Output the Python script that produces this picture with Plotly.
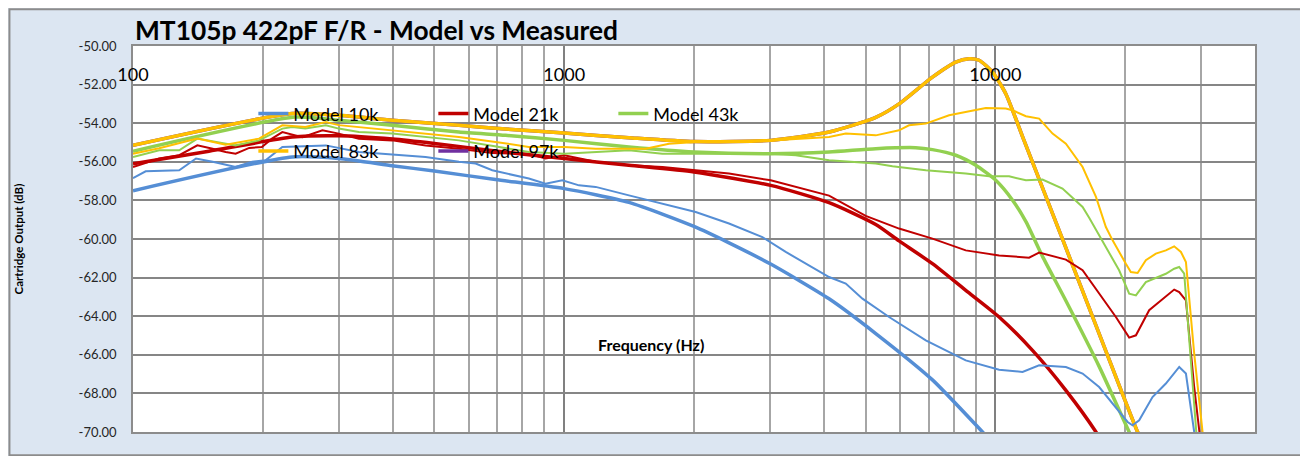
import numpy as np
import plotly.graph_objects as go

# ---------------- data ----------------
# Model curves (Hz, dB)
m10_f = [100, 234, 300, 399, 500, 693, 1000, 1413, 2000, 2411, 3012, 4114, 5279, 7145, 9335, 10290]
m10_db = [-57.5, -55.75, -55.83, -56.2, -56.48, -56.92, -57.39, -58.1, -59.35, -60.2, -61.3, -63.1, -64.9, -67.3, -70.0, -71.0]

m21_f = [100, 150, 234, 300, 400, 500, 700, 1000, 1413, 2000, 3012, 4114, 5279, 5978, 7145, 8537, 10200, 12190, 14570, 17110, 18500]
m21_db = [-56.1, -55.45, -54.72, -54.65, -54.82, -55.05, -55.45, -55.83, -56.18, -56.53, -57.22, -58.12, -59.25, -60.1, -61.28, -62.66, -64.04, -65.77, -67.84, -70.0, -71.3]

m43_f = [100, 238, 300, 399, 570, 731, 1000, 1413, 2000, 3012, 4114, 5279, 6535, 7145, 8093, 9005, 10020, 10960, 11770, 12860, 14570, 17400, 20430, 21730]
m43_db = [-55.45, -53.68, -53.85, -54.11, -54.46, -54.63, -54.89, -55.23, -55.49, -55.58, -55.49, -55.32, -55.27, -55.37, -55.66, -56.18, -56.96, -57.99, -59.1, -60.9, -63.2, -66.6, -70.0, -71.2]

m83_f = [100, 234, 300, 399, 570, 731, 1000, 1413, 2000, 3012, 4114, 5279, 5978, 7145, 8093, 8689, 9167, 9846, 10570, 11560, 12630, 13450, 15100, 17400, 21370, 22940]
m83_db = [-55.15, -53.5, -53.59, -53.85, -54.11, -54.3, -54.51, -54.75, -54.95, -54.89, -54.46, -53.7, -53.0, -51.61, -50.83, -50.66, -50.74, -51.35, -52.47, -54.69, -56.9, -58.46, -61.35, -64.9, -70.0, -71.5]

m97_f = [100, 234, 300, 399, 570, 731, 1000, 1413, 2000, 3012, 4114, 5279, 5978, 7145, 8093, 8689, 9167, 9846, 10570, 11560, 12630, 13450, 15100, 17400, 21370, 22940]
m97_db = [-55.15, -53.5, -53.59, -53.85, -54.11, -54.3, -54.51, -54.75, -54.95, -54.89, -54.46, -53.7, -53.0, -51.61, -50.83, -50.66, -50.74, -51.35, -52.47, -54.69, -56.9, -58.46, -61.35, -64.9, -70.0, -71.5]

# Measured curves (Hz, dB)
s10_f = [100, 107, 128, 140, 153, 173, 189, 203, 222, 280, 334, 385, 421, 477, 570, 623, 681, 731, 828, 905,
         990, 1082, 1183, 1413, 1689, 2018, 2411, 2881, 3264, 3764, 4114, 4498, 4917, 5668, 6896, 8537, 10200, 11560, 12630, 14570,
         15930, 17400, 19030, 20260, 20800, 21550, 23140, 24850, 26690, 27660, 28910, 29700]
s10_db = [-56.85, -56.49, -56.44, -55.83, -56.0, -56.27, -56.0, -55.92, -55.23, -55.15, -55.49, -55.58, -55.66, -55.75, -56.0, -56.09, -56.44, -56.61, -56.87, -57.13,
          -56.96, -57.22, -57.3, -57.74, -58.17, -58.6, -59.2, -59.9, -60.67, -61.45, -61.97, -62.31, -63.09, -64.04, -65.25, -66.29, -66.77, -66.89, -66.54, -66.63,
          -66.97, -67.67, -68.7, -69.48, -69.65, -69.39, -68.19, -67.49, -66.63, -66.97, -70.0, -72.0]

s21_f = [100, 115, 128, 141, 153, 164, 173, 186, 199, 210, 222, 247, 275, 300, 334, 399, 477, 570, 681, 828,
         905, 1000, 1183, 1413, 1689, 2018, 2411, 3012, 4114, 5003, 5978, 7145, 8537, 10200, 11970, 12630, 14570, 15930, 17400, 19030,
         20430, 21180, 22730, 24850, 25980, 26690, 27660, 28910, 29700, 30450]
s21_db = [-56.27, -55.83, -55.66, -55.15, -55.32, -55.49, -55.58, -55.28, -55.23, -54.8, -54.46, -54.72, -54.37, -54.54, -54.8, -54.89, -55.15, -55.32, -55.55, -55.58,
          -55.83, -55.66, -56.0, -56.18, -56.27, -56.44, -56.61, -56.96, -57.75, -58.8, -59.46, -59.98, -60.59, -60.85, -60.97, -60.7, -61.07, -61.62, -62.83, -64.04,
          -65.11, -64.99, -63.69, -63.0, -62.62, -62.75, -63.18, -67.67, -70.0, -72.0]

s43_f = [100, 115, 128, 141, 173, 196, 222, 234, 251, 280, 300, 334, 399, 477, 570, 690, 828, 1000, 1183, 1413,
         1689, 2018, 3012, 3443, 4114, 5279, 5771, 6896, 8537, 9669, 10760, 11770, 12860, 14310, 15930, 16500, 17400, 18040, 19360, 20430,
         21180, 22330, 23980, 24850, 25980, 26680, 27410, 29170, 29700]
s43_db = [-55.75, -55.4, -55.4, -54.8, -55.15, -54.89, -54.28, -54.2, -54.28, -54.11, -54.28, -54.46, -54.54, -54.72, -54.89, -55.2, -55.49, -55.58, -55.49, -55.4,
          -55.58, -55.58, -55.58, -55.66, -55.92, -56.09, -56.23, -56.44, -56.61, -56.75, -56.75, -56.96, -56.92, -57.39, -58.34, -58.9, -59.8, -60.41, -61.62, -62.83,
          -62.92, -62.23, -61.97, -61.8, -61.54, -61.45, -61.8, -70.0, -72.0]

s83_f = [100, 115, 141, 164, 196, 222, 251, 280, 300, 399, 570, 693, 828, 1000, 1183, 1545, 1750, 2018, 3012, 4114,
         4498, 5279, 5978, 6304, 6896, 7809, 8537, 9500, 10570, 10960, 11770, 12630, 13570, 14570, 15930, 17110, 18040, 18700, 20070, 20610,
         21370, 22330, 23560, 24850, 25980, 26930, 27660, 28910, 30230, 30450]
s83_db = [-55.58, -55.3, -54.8, -55.11, -54.8, -54.11, -54.2, -53.94, -54.1, -54.37, -54.72, -54.97, -55.23, -55.23, -55.32, -55.32, -55.06, -54.97, -54.89, -54.72,
          -54.54, -54.63, -54.37, -54.11, -54.02, -53.59, -53.42, -53.21, -53.24, -53.33, -53.64, -53.76, -54.54, -55.06, -56.27, -57.82, -59.38, -60.07, -61.28, -61.71,
          -61.76, -61.1, -60.76, -60.59, -60.38, -60.67, -61.19, -65.94, -70.0, -71.0]

x_tick_vals = [100, 1000, 10000]
x_tick_text = ["100", "1000", "10000"]
x_minor_vals = [200, 300, 400, 500, 600, 700, 800, 900,
                2000, 3000, 4000, 5000, 6000, 7000, 8000, 9000,
                20000, 30000]
y_tick_vals = [-70, -68, -66, -64, -62, -60, -58, -56, -54, -52, -50]
y_tick_text = ["%.2f" % v for v in y_tick_vals]

C_BLUE = "#558ED5"
C_RED = "#C00000"
C_GREEN = "#92D050"
C_GOLD = "#FFC000"
C_PURPLE = "#7030A0"

# ---------------- figure ----------------
# the page body adds an 8px margin, so work in page coords minus 8
OFF = 8
W, H = 1308 - OFF, 456 - OFF
L, R, T, B = 132.6 - OFF, 1255.0 - OFF, 45.7 - OFF, 431.7 - OFF
pw, ph = R - L, B - T


def px(x):
    return (x - OFF - L) / pw


def py(y):
    return (B - (y - OFF)) / ph


fig = go.Figure()

measured = [(s10_f, s10_db, C_BLUE), (s21_f, s21_db, C_RED),
            (s43_f, s43_db, C_GREEN), (s83_f, s83_db, C_GOLD)]
for f, db, c in measured:
    assert len(f) == len(db)
    fig.add_trace(go.Scatter(x=f, y=db, mode="lines", line=dict(color=c, width=2),
                             xaxis="x2", yaxis="y", showlegend=False, hoverinfo="skip"))

models = [("Model 97k", m97_f, m97_db, C_PURPLE, "legend2"),
          ("Model 10k", m10_f, m10_db, C_BLUE, "legend"),
          ("Model 21k", m21_f, m21_db, C_RED, "legend"),
          ("Model 43k", m43_f, m43_db, C_GREEN, "legend"),
          ("Model 83k", m83_f, m83_db, C_GOLD, "legend2")]
for name, f, db, c, lg in models:
    assert len(f) == len(db)
    fig.add_trace(go.Scatter(x=f, y=db, mode="lines", name=name,
                             line=dict(color=c, width=3.5, shape="spline", smoothing=0.6),
                             legend=lg, legendrank=1 if name != "Model 97k" else 2))

xr = [2, float(np.log10(40000))]

fig.update_layout(
    width=W, height=H,
    paper_bgcolor="#DCE6F2", plot_bgcolor="white",
    margin=dict(l=L, r=W - R, t=T, b=H - B, pad=0, autoexpand=False),
    font=dict(family="Lato", color="black"),
    title=dict(text="<b>MT105p 422pF F/R - Model vs Measured</b>",
               x=(135 - OFF) / W, xanchor="left", xref="container",
               y=1 - (30.5 - OFF) / H, yanchor="middle", yref="container",
               font=dict(family="Lato", size=26.3, color="black")),
    xaxis=dict(type="log", range=xr, showticklabels=False, ticks="",
               tickvals=x_tick_vals, showgrid=True, gridcolor="#808080", gridwidth=1.5,
               minor=dict(tickvals=x_minor_vals, showgrid=True, gridcolor="#A6A6A6",
                          gridwidth=1.5, ticks=""),
               showline=True, linecolor="#8C8C8C", linewidth=1.5, mirror=True,
               zeroline=False),
    xaxis2=dict(type="log", range=xr, overlaying="x", matches="x", anchor="free",
                position=py(62), side="bottom", tickvals=x_tick_vals, ticktext=x_tick_text,
                showgrid=False, showline=False, zeroline=False, ticks="",
                tickfont=dict(family="Lato", size=18, color="black")),
    yaxis=dict(range=[-70, -50], tickvals=y_tick_vals, ticktext=y_tick_text,
               showgrid=True, gridcolor="#868686", gridwidth=1.5, zeroline=False,
               showline=True, linecolor="#8C8C8C", linewidth=1.5, mirror=True,
               ticks="", ticklabelstandoff=12,
               tickfont=dict(family="Lato", size=13, color="#262626")),
    legend=dict(orientation="h", x=px(253), xanchor="left", y=py(113.5), yanchor="middle",
                bgcolor="rgba(0,0,0,0)", font=dict(family="Lato", size=18, color="black"),
                entrywidth=135, entrywidthmode="pixels", traceorder="normal"),
    legend2=dict(orientation="h", x=px(253), xanchor="left", y=py(151), yanchor="middle",
                 bgcolor="rgba(0,0,0,0)", font=dict(family="Lato", size=18, color="black"),
                 entrywidth=135, entrywidthmode="pixels", traceorder="normal"),
    annotations=[
        dict(text="<b>Frequency (Hz)</b>", xref="paper", yref="paper",
             x=px(651), y=py(344), xanchor="center", yanchor="middle", showarrow=False,
             font=dict(family="Lato", size=16, color="black")),
        dict(text="<b>Cartridge Output (dB)</b>", xref="paper", yref="paper",
             x=px(18), y=py(238.7), xanchor="center", yanchor="middle", showarrow=False,
             textangle=-90, font=dict(family="Lato", size=11.5, color="black")),
    ],
    shapes=[dict(type="rect", xref="paper", yref="paper",
                 x0=px(9), x1=px(1307), y0=py(455), y1=py(9),
                 line=dict(color="#8C8C8C", width=2), fillcolor="rgba(0,0,0,0)", layer="above")],
)

fig.write_html("out.html")
